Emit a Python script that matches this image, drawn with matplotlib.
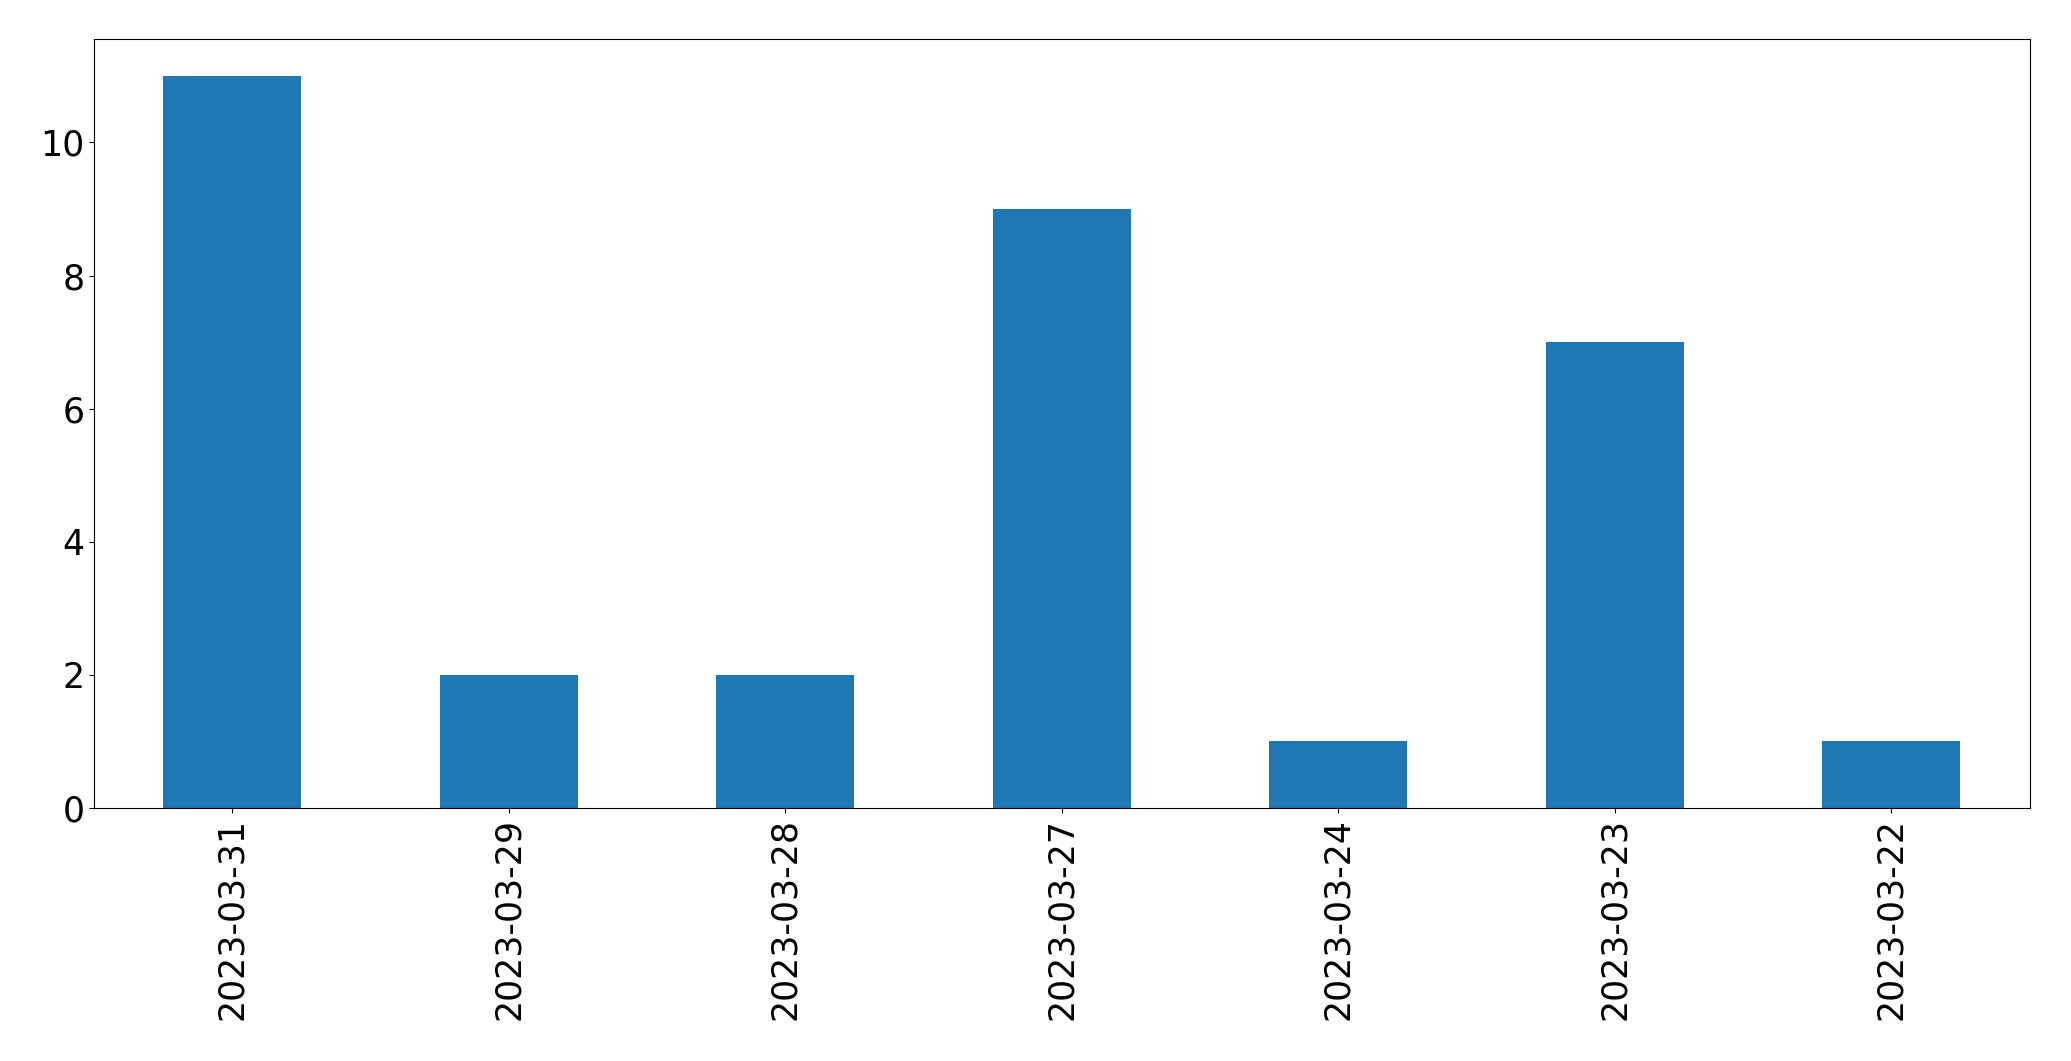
import pandas as pd
import matplotlib
matplotlib.use("Agg")
import matplotlib.pyplot as plt

fechas = ["2023-03-31", "2023-03-29", "2023-03-28", "2023-03-27",
          "2023-03-24", "2023-03-23", "2023-03-22"]
conteo = [11, 2, 2, 9, 1, 7, 1]

serie = pd.Series(conteo, index=fechas)

plt.rcParams['font.size'] = 25
fig, ax = plt.subplots(figsize=(20.71, 10.61), dpi=100)
serie.plot(kind='bar', ax=ax)
plt.subplots_adjust(left=0.0454, right=0.980, top=0.963, bottom=0.2385)
fig.savefig("out.png", dpi=100)
